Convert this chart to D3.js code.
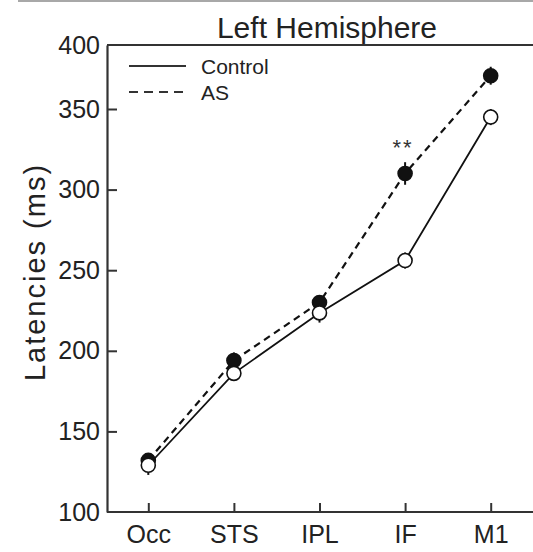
<!DOCTYPE html>
<html>
<head>
<meta charset="utf-8">
<script src="https://cdn.jsdelivr.net/npm/d3@7/dist/d3.min.js"></script>
<style>
  html, body { margin: 0; padding: 0; background: #fff; }
  svg { display: block; font-family: "Liberation Sans", Arial, Helvetica, sans-serif; }
</style>
</head>
<body>
<svg id="chart" width="533" height="552"></svg>
<script>
// ---- data ----
const categories = ["Occ", "STS", "IPL", "IF", "M1"];
const controlValues = [129, 186, 223.5, 256, 345];
const controlErrors = [6, 4, 6, 5, 5];
const asValues = [132, 194, 230, 310, 376];
const asErrors = [4, 5, 4, 7, 7];
const yTickValues = [100, 150, 200, 250, 300, 350, 400];
const seriesNames = ["Control", "AS"];
const titleText = "Left Hemisphere";
const yLabelText = "Latencies (ms)";
const significance = { category: "IF", value: 322, label: "**" };

// ---- layout ----
const svg = d3.select("#chart");
const mLeft = 107, mRight = 533, mTop = 45, mBottom = 512;

const x = d3.scalePoint().domain(categories).range([148.3, 490.7]);
const y = d3.scaleLinear().domain([100, 350, 400]).range([mBottom, 109, mTop]);

// top gray border line
svg.append("line").attr("x1", 18).attr("x2", 533).attr("y1", 1).attr("y2", 1)
  .attr("stroke", "#a8a8a8").attr("stroke-width", 2);

// frame line (top)
svg.append("line").attr("x1", mLeft).attr("x2", mRight).attr("y1", mTop).attr("y2", mTop)
  .attr("stroke", "#333").attr("stroke-width", 2.2);

// y axis
const yAxis = svg.append("g").attr("transform", `translate(${mLeft},0)`)
  .call(d3.axisLeft(y).tickValues(yTickValues).tickFormat(d3.format("d"))
    .tickSize(-10).tickSizeOuter(0).tickPadding(7));
yAxis.selectAll("path").attr("stroke", "#333").attr("stroke-width", 2.2);
yAxis.selectAll("line").attr("stroke", "#333").attr("stroke-width", 2);
yAxis.selectAll("text").attr("font-size", 25).attr("fill", "#222")
  .attr("font-family", "Liberation Sans, Arial, sans-serif");
yAxis.selectAll(".tick").filter(d => d === 100 || d === 400).select("line").remove();

// x axis
const xAxis = svg.append("g").attr("transform", `translate(0,${mBottom})`)
  .call(d3.axisBottom(x).tickSize(-9).tickSizeOuter(0).tickPadding(13));
xAxis.select("path").attr("d", `M${mLeft},0H${mRight}`).attr("stroke", "#333").attr("stroke-width", 2.2);
xAxis.selectAll("line").attr("stroke", "#333").attr("stroke-width", 2);
xAxis.selectAll("text").attr("font-size", 25).attr("fill", "#222")
  .attr("font-family", "Liberation Sans, Arial, sans-serif");

// title
svg.append("text").attr("x", 327).attr("y", 38).attr("text-anchor", "middle")
  .attr("font-size", 30).attr("fill", "#222").text(titleText);

// y label
svg.append("text").attr("transform", `translate(45,272) rotate(-90)`)
  .attr("text-anchor", "middle").attr("font-size", 29).attr("letter-spacing", 2)
  .attr("fill", "#222").text(yLabelText);

// lines
const lineGen = d3.line().x((d, i) => x(categories[i])).y(d => y(d));
svg.append("path").datum(asValues).attr("d", lineGen).attr("fill", "none")
  .attr("stroke", "#111").attr("stroke-width", 2.2).attr("stroke-dasharray", "7,5");
svg.append("path").datum(controlValues).attr("d", lineGen).attr("fill", "none")
  .attr("stroke", "#111").attr("stroke-width", 1.8);

// error bars & markers
function drawSeries(vals, errs, fill) {
  const g = svg.append("g");
  g.selectAll("line.err").data(vals).join("line").attr("class", "err")
    .attr("x1", (d, i) => x(categories[i])).attr("x2", (d, i) => x(categories[i]))
    .attr("y1", (d, i) => y(d - errs[i])).attr("y2", (d, i) => y(d + errs[i]))
    .attr("stroke", "#111").attr("stroke-width", 2);
  g.selectAll("circle").data(vals).join("circle")
    .attr("cx", (d, i) => x(categories[i])).attr("cy", d => y(d))
    .attr("r", 7).attr("fill", fill).attr("stroke", "#111").attr("stroke-width", 1.6);
}
drawSeries(asValues, asErrors, "#111");
drawSeries(controlValues, controlErrors, "#fff");

// significance
svg.append("text").attr("x", x(significance.category) - 2).attr("y", y(significance.value) + 1)
  .attr("text-anchor", "middle").attr("font-size", 22).attr("letter-spacing", 2)
  .attr("fill", "#333").text(significance.label);

// legend
const legend = svg.append("g");
legend.append("line").attr("x1", 129).attr("x2", 186).attr("y1", 66).attr("y2", 66)
  .attr("stroke", "#333").attr("stroke-width", 1.8);
legend.append("line").attr("x1", 129).attr("x2", 188).attr("y1", 92).attr("y2", 92)
  .attr("stroke", "#333").attr("stroke-width", 2).attr("stroke-dasharray", "9,6");
legend.append("text").attr("x", 201).attr("y", 74).attr("font-size", 21)
  .attr("fill", "#222").text(seriesNames[0]);
legend.append("text").attr("x", 201).attr("y", 100).attr("font-size", 21)
  .attr("fill", "#222").text(seriesNames[1]);
</script>
</body>
</html>
